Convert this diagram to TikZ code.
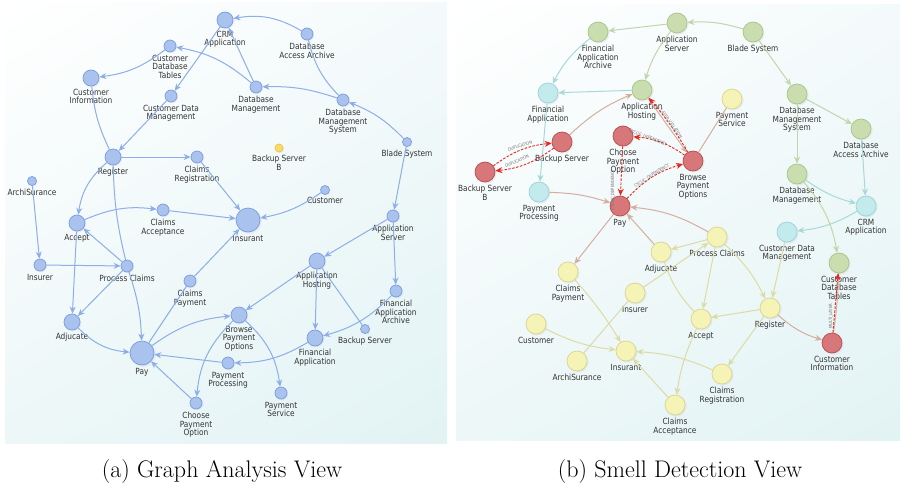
\documentclass[tikz,border=0pt]{standalone}
\usepackage{fontspec}
\usetikzlibrary{arrows.meta,shadings,shadows}
\newfontfamily\labfont[FakeStretch=0.87]{DejaVu Sans}

% node fills, borders and edge colours
\definecolor{ledge}{HTML}{8DAEE8}
\definecolor{lfill}{HTML}{A9C2EE}
\definecolor{ldraw}{HTML}{7A9CDF}
\definecolor{lyfill}{HTML}{F7DC6A}
\definecolor{lydraw}{HTML}{EEC040}
\definecolor{gfill}{HTML}{C9DDAE}
\definecolor{gdraw}{HTML}{A8C48C}
\definecolor{cfill}{HTML}{C3EBEE}
\definecolor{cdraw}{HTML}{9AD3D8}
\definecolor{yfill}{HTML}{F5F3B6}
\definecolor{ydraw}{HTML}{D9D58F}
\definecolor{rfill}{HTML}{D8777A}
\definecolor{rdraw}{HTML}{B84B4F}
\definecolor{gedge}{HTML}{BFD7AA}
\definecolor{cedge}{HTML}{A7D9D8}
\definecolor{yedge}{HTML}{DCDBA6}
\definecolor{bedge}{HTML}{D5AE9F}
\definecolor{smellred}{HTML}{E8251E}
\definecolor{labtxt}{HTML}{333333}
\definecolor{panelA}{HTML}{F4FAFB}
\definecolor{panelB}{HTML}{EDF7F8}
\definecolor{panelC}{HTML}{E2F3F4}

\tikzset{
  lbl/.style={font=\labfont\fontsize{8.5}{8.5}\selectfont, text=labtxt, align=center, inner sep=0pt},
  smelltxt/.style={font=\labfont\fontsize{4.3}{5}\selectfont, text=black!55, inner sep=0pt},
  soft/.style={circular drop shadow={shadow xshift=0.6pt, shadow yshift=-0.6pt, shadow scale=1.12, opacity=0.12}},
  ln/.style={circle, draw=ldraw, fill=lfill, line width=0.7pt, inner sep=0pt, minimum size=#1, soft},
  lyn/.style={circle, draw=lydraw, fill=lyfill, line width=0.7pt, inner sep=0pt, minimum size=#1, soft},
  gn/.style={circle, draw=gdraw, fill=gfill, line width=0.7pt, inner sep=0pt, minimum size=20pt, soft},
  cn/.style={circle, draw=cdraw, fill=cfill, line width=0.7pt, inner sep=0pt, minimum size=20pt, soft},
  yn/.style={circle, draw=ydraw, fill=yfill, line width=0.7pt, inner sep=0pt, minimum size=20pt, soft},
  rn/.style={circle, draw=rdraw, fill=rfill, line width=0.7pt, inner sep=0pt, minimum size=20pt, soft},
  tip/.style={-{Stealth[length=7pt,width=6pt,inset=2.2pt]}},
  le/.style={draw=ledge, line width=1pt, tip},
  lp/.style={draw=ledge, line width=1pt},
  ge/.style={draw=gedge, line width=1pt, tip},
  ce/.style={draw=cedge, line width=1pt, tip},
  ye/.style={draw=yedge, line width=1pt, tip},
  yp/.style={draw=yedge, line width=1pt},
  be/.style={draw=bedge, line width=1pt, tip},
  bp/.style={draw=bedge, line width=1pt},
  smell/.style={draw=smellred, line width=0.9pt, dash pattern=on 2.5pt off 1.5pt,
    -{Stealth[length=7pt,width=6pt,inset=2.2pt]}},
  caption/.style={font=\fontsize{24}{28}\selectfont, anchor=base, inner sep=0pt}
}

\begin{document}
\begin{tikzpicture}[x=1pt, y=-1pt, label distance=2.5pt]
\useasboundingbox (0,0) rectangle (901,487);
\fill[white] (0,0) rectangle (901,487);

% panel backgrounds
\shade[upper left=white, upper right=panelA, lower left=panelB, lower right=panelC]
  (5,3) rectangle (447,443);
\shade[upper left=white, upper right=panelA, lower left=panelB, lower right=panelC]
  (456,5) rectangle (900,440);

% ---------------- (a) graph analysis view ----------------
\node[ln=16pt, label={[lbl]below:{CRM\\Application}}] (CRM) at (225,20) {};
\node[ln=12pt, label={[lbl]below:{Customer\\Database\\Tables}}] (CDT) at (170,46) {};
\node[ln=16pt, label={[lbl]below:{Customer\\Information}}] (CI) at (91,78) {};
\node[ln=12pt, label={[lbl]below:{Customer Data\\Management}}] (CDM) at (171,96) {};
\node[ln=12pt, label={[lbl]below:{Database\\Access Archive}}] (DAA) at (307,34) {};
\node[ln=12pt, label={[lbl]below:{Database\\Management}}] (DM) at (256,87) {};
\node[ln=12pt, label={[lbl]below:{Database\\Management\\System}}] (DMS) at (343,100) {};
\node[ln=9pt, label={[lbl]below:{Blade System}}] (BS) at (407,142) {};
\node[lyn=8pt, label={[lbl]below:{Backup Server\\B}}] (BSB) at (279,148) {};
\node[ln=16pt, label={[lbl]below:{Register}}] (REG) at (113,157) {};
\node[ln=12pt, label={[lbl]below:{Claims\\Registration}}] (CRG) at (197,157) {};
\node[ln=9pt, label={[lbl]below:{ArchiSurance}}] (ARCH) at (32,181) {};
\node[ln=9pt, label={[lbl]below:{Customer}}] (CUS) at (325,190) {};
\node[ln=12pt, label={[lbl]below:{Claims\\Acceptance}}] (CA) at (163,210) {};
\node[ln=24pt, label={[lbl]below:{Insurant}}] (INS) at (248,220) {};
\node[ln=12pt, label={[lbl]below:{Application\\Server}}] (AS) at (393,216) {};
\node[ln=16pt, label={[lbl]below:{Accept}}] (ACC) at (77,223) {};
\node[ln=12pt, label={[lbl]below:{Insurer}}] (INR) at (40,265) {};
\node[ln=12pt, label={[lbl]below:{Process Claims}}] (PC) at (127,266) {};
\node[ln=12pt, label={[lbl]below:{Claims\\Payment}}] (CP) at (190,281) {};
\node[ln=16pt, label={[lbl]below:{Application\\Hosting}}] (AH) at (317,261) {};
\node[ln=12pt, label={[lbl]below:{Financial\\Application\\Archive}}] (FAA) at (396,291) {};
\node[ln=16pt, label={[lbl]below:{Browse\\Payment\\Options}}] (BPO) at (239,315) {};
\node[ln=16pt, label={[lbl]below:{Adjucate}}] (ADJ) at (72,322) {};
\node[ln=9pt, label={[lbl]below:{Backup Server}}] (BKS) at (365,329) {};
\node[ln=16pt, label={[lbl]below:{Financial\\Application}}] (FA) at (315,338) {};
\node[ln=24pt, label={[lbl]below:{Pay}}] (PAY) at (142,353) {};
\node[ln=12pt, label={[lbl]below:{Payment\\Processing}}] (PP) at (228,363) {};
\node[ln=12pt, label={[lbl]below:{Payment\\Service}}] (PS) at (281,393) {};
\node[ln=12pt, label={[lbl]below:{Choose\\Payment\\Option}}] (CPO) at (196,403) {};

\draw[le] (DAA) to[bend right=20] (CRM);
\draw[le] (DM) -- (CRM);
\draw[le] (CRM) -- (CDM);
\draw[le] (DM) to[bend right=15] (CDT);
\draw[le] (CDT) to[bend left=15] (CI);
\draw[le] (DMS) to[bend right=10] (DM);
\draw[lp] (DMS) to[bend left=15] (DAA);
\draw[le] (BS) to[bend right=12] (DMS);
\draw[le] (BS) -- (AS);
\draw[le] (CUS) to[bend left=12] (INS);
\draw[le] (CRG) -- (INS);
\draw[le] (CA) -- (INS);
\draw[le] (CP) -- (INS);
\draw[le] (REG) -- (CRG);
\draw[le] (CDM) -- (REG);
\draw[lp] (CI) to[bend right=10] (REG);
\draw[le] (REG) to[bend right=20] (ACC);
\draw[lp] (REG) to[bend right=6] (PC);
\draw[le] (PC) to[bend left=8] (PAY);
\draw[le] (PC) -- (ACC);
\draw[le] (PC) -- (ADJ);
\draw[le] (INR) -- (PC);
\draw[le] (ARCH) -- (INR);
\draw[le] (ACC) -- (ADJ);
\draw[le] (ACC) to[bend left=15] (CA);
\draw[le] (ADJ) to[bend right=20] (PAY);
\draw[lp] (CP) -- (PAY);
\draw[le] (PAY) to[bend left=15] (BPO);
\draw[le] (PP) -- (PAY);
\draw[le] (CPO) -- (PAY);
\draw[le] (BPO) to[bend right=20] (CPO);
\draw[le] (BPO) to[bend left=20] (PS);
\draw[le] (AS) -- (AH);
\draw[le] (AS) -- (FAA);
\draw[le] (AH) -- (BPO);
\draw[le] (AH) -- (FA);
\draw[lp] (AH) -- (BKS);
\draw[le] (FAA) to[bend left=15] (FA);
\draw[le] (FA) to[bend left=15] (PP);

% ---------------- (b) smell detection view ----------------
\node[gn, label={[lbl]below:{Financial\\Application\\Archive}}] (rFAA) at (598,32) {};
\node[gn, label={[lbl]below:{Application\\Server}}] (rAS) at (677,23) {};
\node[gn, label={[lbl]below:{Blade System}}] (rBS) at (753,32) {};
\node[cn, label={[lbl]below:{Financial\\Application}}] (rFA) at (548,93) {};
\node[gn, label={[lbl]below:{Application\\Hosting}}] (rAH) at (642,90) {};
\node[yn, label={[lbl]below:{Payment\\Service}}] (rPSV) at (732,99) {};
\node[gn, label={[lbl]below:{Database\\Management\\System}}] (rDMS) at (797,94) {};
\node[gn, label={[lbl]below:{Database\\Access Archive}}] (rDAA) at (861,129) {};
\node[rn, label={[lbl]below:{Backup Server}}] (rBK) at (562,142) {};
\node[rn, label={[lbl]below:{Backup Server\\B}}] (rBKB) at (485,172) {};
\node[rn, label={[lbl]below:{Choose\\Payment\\Option}}] (rCPO) at (623,136) {};
\node[rn, label={[lbl]below:{Browse\\Payment\\Options}}] (rBPO) at (693,161) {};
\node[gn, label={[lbl]below:{Database\\Management}}] (rDM) at (797,174) {};
\node[cn, label={[lbl]below:{Payment\\Processing}}] (rPP) at (539,192) {};
\node[rn, label={[lbl]below:{Pay}}] (rPAY) at (620,206) {};
\node[cn, label={[lbl]below:{CRM\\Application}}] (rCRM) at (866,206) {};
\node[cn, label={[lbl]below:{Customer Data\\Management}}] (rCDM) at (787,232) {};
\node[yn, label={[lbl]below:{Process Claims}}] (rPC) at (717,237) {};
\node[yn, label={[lbl]below:{Adjucate}}] (rADJ) at (661,252) {};
\node[gn, label={[lbl]below:{Customer\\Database\\Tables}}] (rCDT) at (839,263) {};
\node[yn, label={[lbl]below:{Claims\\Payment}}] (rCP) at (568,272) {};
\node[yn, label={[lbl]below:{Insurer}}] (rINR) at (635,293) {};
\node[yn, label={[lbl]below:{Register}}] (rREG) at (770,308) {};
\node[yn, label={[lbl]below:{Accept}}] (rACC) at (701,319) {};
\node[yn, label={[lbl]below:{Customer}}] (rCUS) at (536,324) {};
\node[rn, label={[lbl]below:{Customer\\Information}}] (rCI) at (832,343) {};
\node[yn, label={[lbl]below:{Insurant}}] (rINS) at (626,351) {};
\node[yn, label={[lbl]below:{ArchiSurance}}] (rARCH) at (577,361) {};
\node[yn, label={[lbl]below:{Claims\\Registration}}] (rCRG) at (722,374) {};
\node[yn, label={[lbl]below:{Claims\\Acceptance}}] (rCA) at (675,405) {};

\draw[ge] (rAS) -- (rFAA);
\draw[ge] (rBS) to[bend right=10] (rAS);
\draw[ge] (rAS) to[bend right=10] (rAH);
\draw[ce] (rFAA) to[bend right=12] (rFA);
\draw[ce] (rAH) -- (rFA);
\draw[ce] (rFA) -- (rPP);
\draw[be] (rBK) to[bend left=10] (rAH);
\draw[be] (rPP) to[bend left=8] (rPAY);
\draw[be] (rAH) -- (rBPO);
\draw[bp] (rBPO) -- (rPSV);
\draw[ge] (rBS) -- (rDMS);
\draw[ge] (rDMS) -- (rDAA);
\draw[ge] (rDMS) -- (rDM);
\draw[ce] (rDAA) -- (rCRM);
\draw[ce] (rDM) to[bend right=10] (rCRM);
\draw[ge] (rDM) to[bend left=15] (rCDT);
\draw[ce] (rCRM) to[bend left=12] (rCDM);
\draw[be] (rREG) to[bend right=12] (rCI);
\draw[bp] (rCDT) to[bend left=3] (rCI);
\draw[ye] (rCDM) -- (rREG);
\draw[ye] (rPC) to[bend left=10] (rREG);
\draw[ye] (rPC) -- (rACC);
\draw[ye] (rREG) -- (rACC);
\draw[ye] (rREG) -- (rCRG);
\draw[ye] (rACC) to[bend right=8] (rCA);
\draw[be] (rPC) to[bend right=12] (rPAY);
\draw[be] (rADJ) -- (rPAY);
\draw[be] (rPAY) -- (rCP);
\draw[ye] (rPC) -- (rADJ);
\draw[ye] (rINR) -- (rPC);
\draw[yp] (rADJ) to[bend right=12] (rACC);
\draw[ye] (rCP) to[bend left=5] (rINS);
\draw[ye] (rCUS) to[bend right=10] (rINS);
\draw[yp] (rARCH) -- (rINR);
\draw[ye] (rCA) -- (rINS);
\draw[ye] (rCRG) to[bend right=10] (rINS);

% smell edges
\draw[smell] (rBKB) to[bend left=15] (rBK);
\draw[smell] (rBK) to[bend left=15] (rBKB);
\draw[smell] (rCPO) -- (rPAY);
\draw[smell] (rPAY) to[bend left=15] (rBPO);
\draw[smell] (rBPO) to[bend right=15] (rCPO);
\draw[smell] (rBPO) to[bend right=5] (rAH);
\draw[smell] (rCI) -- (rCDT);

\node[smelltxt, rotate=18] (t1) at (520,146) {DUPLICATION};
\node[smelltxt, rotate=22] (t2) at (517,161) {DUPLICATION};
\node[smelltxt, rotate=90] (t3) at (613,190) {CYCLIC\_DEPENDENCY};
\node[smelltxt, rotate=33] (t4) at (652,176) {CYCLIC\_DEPENDENCY};
\node[smelltxt, rotate=-22] (t5) at (648,138) {CYCLIC\_DEPENDENCY};
\node[smelltxt, rotate=-54] (t6) at (671,124) {LAYER\_VIOLATION};
\node[smelltxt, rotate=90] (t7) at (831,316) {MULTI\_LAYER};

% captions
\node[caption] (capa) at (222,477) {(a) Graph Analysis View};
\node[caption] (capb) at (680,477) {(b) Smell Detection View};
\end{tikzpicture}
\end{document}
